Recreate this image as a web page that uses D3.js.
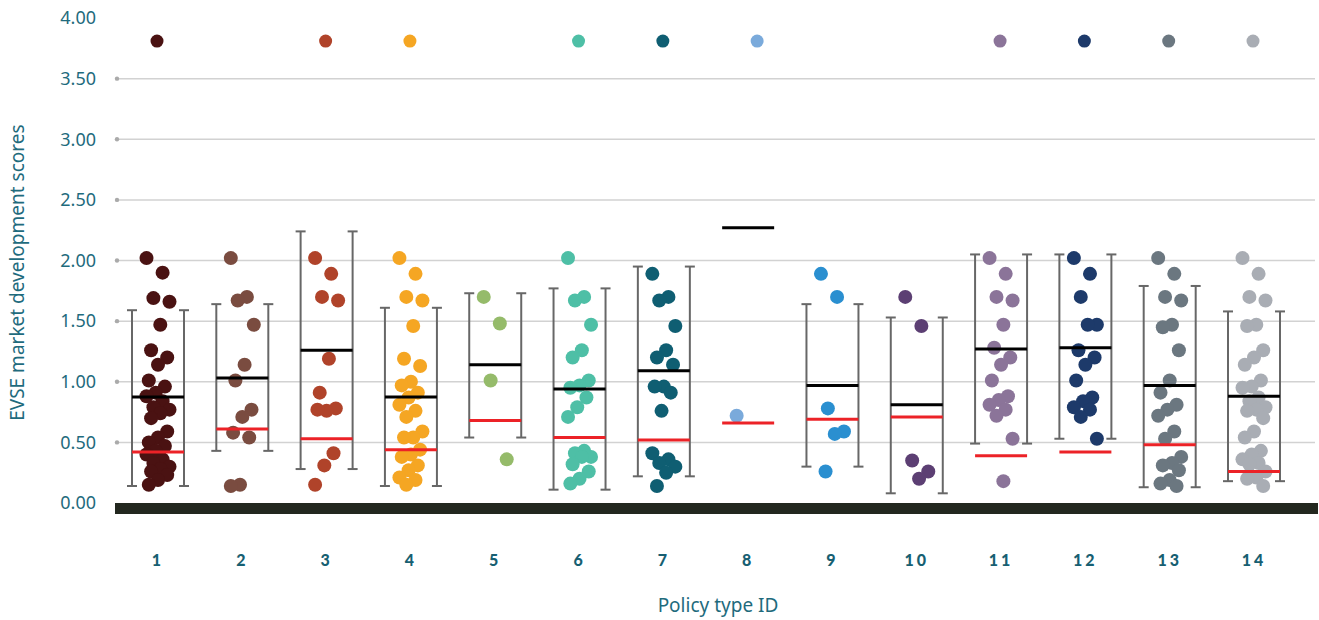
<!DOCTYPE html>
<html>
<head>
<meta charset="utf-8">
<script src="https://cdn.jsdelivr.net/npm/d3@7"></script>
<style>
  body { margin: 0; background: #fff; }
  text { font-family: "Noto Sans", "Open Sans", sans-serif; }
</style>
</head>
<body>
<div id="chart"></div>
<script>
const policyIds = [1, 2, 3, 4, 5, 6, 7, 8, 9, 10, 11, 12, 13, 14];
const yTicks = [0, 0.5, 1, 1.5, 2, 2.5, 3, 3.5, 4];

const colors = ["#4a1212", "#7a4c40", "#b0432a", "#f5a623", "#95bb6a", "#4ebfa6", "#0f5e72",
    "#7aaadb", "#2a8fd0", "#5c3f73", "#8b7499", "#1d3a6a", "#6b7780", "#a9adb4"];

// scores per policy type
const scores = [
    [2.02, 1.90, 1.69, 1.66, 1.47, 1.26, 1.20, 1.14, 1.01, 0.96, 0.91, 0.88, 0.84, 0.79, 0.77, 0.74, 0.70,
     0.59, 0.54, 0.50, 0.47, 0.43, 0.40, 0.36, 0.33, 0.30, 0.28, 0.26, 0.23, 0.19, 0.15],
    [2.02, 1.70, 1.67, 1.47, 1.14, 1.01, 0.77, 0.71, 0.58, 0.54, 0.15, 0.14],
    [2.02, 1.89, 1.70, 1.67, 1.19, 0.91, 0.78, 0.76, 0.77, 0.41, 0.31, 0.15],
    [2.02, 1.89, 1.70, 1.67, 1.46, 1.19, 1.13, 1.00, 0.97, 0.91, 0.87, 0.81, 0.76, 0.71, 0.59, 0.54, 0.54,
     0.44, 0.40, 0.38, 0.31, 0.27, 0.21, 0.19, 0.15],
    [1.70, 1.48, 1.01, 0.36],
    [2.02, 1.70, 1.67, 1.47, 1.26, 1.20, 1.01, 0.97, 0.95, 0.87, 0.79, 0.71, 0.43, 0.41, 0.38, 0.38, 0.32,
     0.26, 0.20, 0.16],
    [1.89, 1.70, 1.67, 1.46, 1.26, 1.20, 1.14, 0.96, 0.96, 0.91, 0.76, 0.41, 0.36, 0.33, 0.30, 0.25, 0.14],
    [0.72],
    [1.89, 1.70, 0.78, 0.59, 0.57, 0.26],
    [1.70, 1.46, 0.35, 0.26, 0.20],
    [2.02, 1.89, 1.70, 1.67, 1.47, 1.28, 1.20, 1.14, 1.01, 0.88, 0.85, 0.81, 0.77, 0.72, 0.53, 0.18],
    [2.02, 1.89, 1.70, 1.47, 1.47, 1.26, 1.20, 1.14, 1.01, 0.87, 0.84, 0.79, 0.77, 0.71, 0.53],
    [2.02, 1.89, 1.70, 1.67, 1.47, 1.45, 1.26, 1.01, 0.91, 0.81, 0.77, 0.72, 0.59, 0.53, 0.38, 0.33, 0.31,
     0.27, 0.19, 0.16, 0.14],
    [2.02, 1.89, 1.70, 1.67, 1.47, 1.46, 1.26, 1.20, 1.14, 1.01, 0.96, 0.95, 0.87, 0.84, 0.79, 0.77, 0.76,
     0.70, 0.59, 0.54, 0.43, 0.40, 0.36, 0.33, 0.32, 0.26, 0.21, 0.20, 0.14]
];

// outlier shown at the top (null = none)
const outliers = [3.81, null, 3.81, 3.81, null, 3.81, 3.81, 3.81, null, null, 3.81, 3.81, 3.81, 3.81];

const whiskerLow  = [0.14, 0.43, 0.28, 0.14, 0.54, 0.11, 0.22, null, 0.30, 0.08, 0.49, 0.53, 0.13, 0.18];
const whiskerHigh = [1.59, 1.64, 2.24, 1.61, 1.73, 1.77, 1.95, null, 1.64, 1.53, 2.05, 2.05, 1.79, 1.58];
const means   = [0.875, 1.03, 1.26, 0.875, 1.14, 0.94, 1.09, 2.27, 0.97, 0.81, 1.27, 1.28, 0.97, 0.88];
const medians = [0.42, 0.61, 0.53, 0.44, 0.68, 0.54, 0.52, 0.66, 0.69, 0.71, 0.39, 0.42, 0.48, 0.26];

const W = 1319, H = 620;
const svg = d3.select("#chart").append("svg")
    .attr("width", W)
    .attr("height", H);

const x = d3.scalePoint()
    .domain(policyIds)
    .range([158, 1254]);

const y = d3.scaleLinear()
    .domain([0, 4])
    .range([503, 18]);

const halfW = 26;
const textColor = "#1f6b7d";

// gridlines
const grid = svg.append("g");
yTicks.filter(t => t > 0 && t < 4).forEach(t => {
    grid.append("line")
        .attr("x1", 117).attr("x2", 1315)
        .attr("y1", y(t)).attr("y2", y(t))
        .attr("stroke", "#d2d2d2")
        .attr("stroke-width", 1.5);
    grid.append("circle")
        .attr("cx", 117).attr("cy", y(t)).attr("r", 2.2)
        .attr("fill", "#aaaaaa");
});

// y axis labels
const yAxis = svg.append("g")
    .attr("transform", "translate(96,0)")
    .call(d3.axisLeft(y).tickValues(yTicks).tickFormat(d3.format(".2f")).tickSize(0).tickPadding(0));
yAxis.select(".domain").remove();
yAxis.selectAll("text")
    .attr("fill", textColor)
    .attr("font-size", 18)
    .style("font-family", "'Noto Sans', sans-serif");

svg.append("text")
    .attr("transform", `translate(24,${y(1.9)}) rotate(-90)`)
    .attr("text-anchor", "middle")
    .attr("fill", textColor)
    .attr("font-size", 19)
    .text("EVSE market development scores");

// baseline bar
svg.append("rect")
    .attr("x", 115).attr("y", y(0))
    .attr("width", 1203).attr("height", 11)
    .attr("fill", "#23281f");

// whiskers
policyIds.forEach((id, i) => {
    if (whiskerLow[i] === null) return;
    const cx = x(id);
    const g = svg.append("g").attr("stroke", "#676767").attr("stroke-width", 2);
    [cx - halfW, cx + halfW].forEach(px => {
        g.append("line")
            .attr("x1", px).attr("x2", px)
            .attr("y1", y(whiskerHigh[i])).attr("y2", y(whiskerLow[i]));
        [whiskerHigh[i], whiskerLow[i]].forEach(v => {
            g.append("line")
                .attr("x1", px - 5).attr("x2", px + 5)
                .attr("y1", y(v)).attr("y2", y(v));
        });
    });
});

// dots
const jitter = i => ((i * 7) % 11 - 5) * 2.3;
policyIds.forEach((id, i) => {
    const cx = x(id);
    svg.append("g")
        .selectAll("circle")
        .data(scores[i])
        .join("circle")
        .attr("cx", (d, j) => cx + jitter(j))
        .attr("cy", d => y(d))
        .attr("r", 7)
        .attr("fill", colors[i]);
    if (outliers[i] !== null) {
        svg.append("circle")
            .attr("cx", cx + (id === 8 ? 9 : -1))
            .attr("cy", y(outliers[i]))
            .attr("r", 6.5)
            .attr("fill", colors[i]);
    }
});

// mean (black) and median (red) lines
policyIds.forEach((id, i) => {
    const cx = x(id);
    svg.append("line")
        .attr("x1", cx - halfW).attr("x2", cx + halfW)
        .attr("y1", y(means[i])).attr("y2", y(means[i]))
        .attr("stroke", "#000").attr("stroke-width", 3);
    svg.append("line")
        .attr("x1", cx - halfW).attr("x2", cx + halfW)
        .attr("y1", y(medians[i])).attr("y2", y(medians[i]))
        .attr("stroke", "#ec2227").attr("stroke-width", 3);
});

// x labels
svg.append("g")
    .selectAll("text")
    .data(policyIds)
    .join("text")
    .attr("x", d => x(d))
    .attr("y", 566)
    .attr("text-anchor", "middle")
    .attr("fill", "#175f72")
    .attr("font-size", 16)
    .attr("font-weight", 900)
    .attr("letter-spacing", 3)
    .style("font-family", "Lato, 'DejaVu Sans', sans-serif")
    .text(d => d);

svg.append("text")
    .attr("x", 718).attr("y", 612)
    .attr("text-anchor", "middle")
    .attr("fill", textColor)
    .attr("font-size", 19)
    .text("Policy type ID");
</script>
</body>
</html>
